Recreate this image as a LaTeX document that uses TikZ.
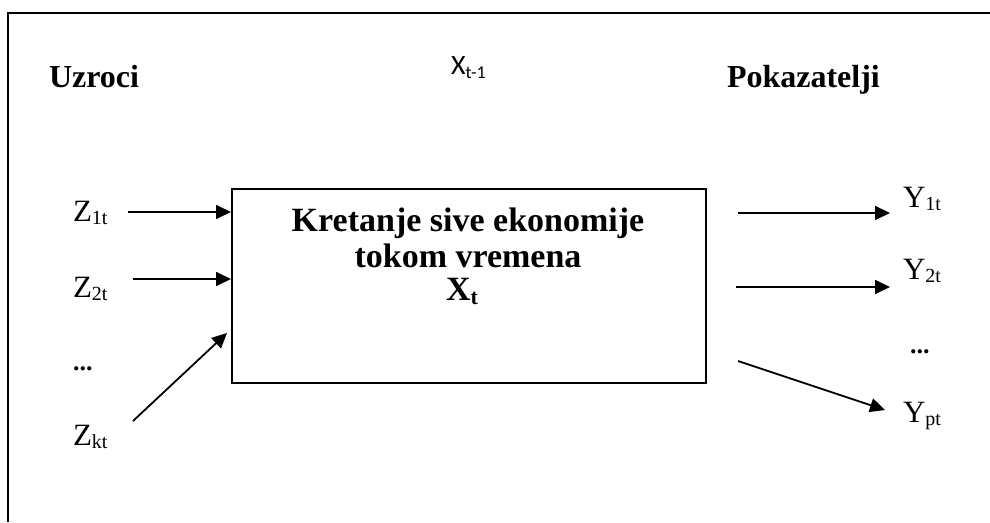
\documentclass[tikz,border=0pt]{standalone}
\usepackage{fontspec}
\setmainfont{Liberation Serif}
\newfontfamily\calibrifont{Carlito}
\usetikzlibrary{arrows.meta}
\tikzset{
  lbl/.style={anchor=base west, inner sep=0pt, outer sep=0pt},
  head/.style={font=\bfseries\fontsize{32}{36}\selectfont},
  var/.style={font=\fontsize{31}{34}\selectfont},
  dots/.style={font=\bfseries\fontsize{26}{28}\selectfont},
  conn/.style={line width=1.8pt, -{Triangle[length=15pt,width=14pt]}},
  frameline/.style={line width=2pt},
  boxtext/.style={anchor=base, inner sep=0pt, font=\bfseries\fontsize{34}{36}\selectfont},
}
\newcommand{\sbs}[1]{\raisebox{-3.5pt}{\fontsize{20}{20}\selectfont #1}}
\begin{document}
\begin{tikzpicture}[x=1pt,y=-1pt]
\useasboundingbox (0,0) rectangle (990,522);
% outer frame (open at bottom and right)
\coordinate (fl) at (8,522);
\coordinate (fc) at (8,12.5);
\coordinate (fr) at (990,12.5);
\draw[frameline] (fl) -- (fc) -- (fr);

% headings
\node[lbl, head] (uz) at (49,87) {Uzroci};
\node[lbl, head] (pok) at (727,87) {Pokazatelji};
\node[lbl, font=\calibrifont\fontsize{28}{30}\selectfont] (xt1) at (451,74)
  {X\raisebox{-4pt}{\fontsize{18}{20}\selectfont t-1}};

% central box
\node[draw, line width=1.8pt, minimum width=474pt, minimum height=194pt,
      inner sep=0pt, anchor=north west] (box) at (231,188) {};
\node[boxtext] (t1) at (468,231) {Kretanje sive ekonomije};
\node[boxtext] (t2) at (468,267) {tokom vremena};
\node[boxtext] (t3) at (462,300)
  {X\raisebox{-4pt}{\fontsize{22}{22}\selectfont t}};

% input labels
\node[lbl, var] (z1) at (73,221) {Z\sbs{1t}};
\node[lbl, var] (z2) at (73,297) {Z\sbs{2t}};
\node[lbl, dots] (zd) at (73,370) {...};
\node[lbl, var] (zk) at (73,445) {Z\sbs{kt}};

% output labels
\node[lbl, var] (y1) at (903,207) {Y\sbs{1t}};
\node[lbl, var] (y2) at (903,279) {Y\sbs{2t}};
\node[lbl, dots] (yd) at (910,353) {...};
\node[lbl, var] (yp) at (903,422) {Y\sbs{pt}};

% connector endpoints
\coordinate (a1s) at (128,212); \coordinate (a1e) at (box.west |- a1s);
\coordinate (a2s) at (133,279); \coordinate (a2e) at (box.west |- a2s);
\coordinate (a3s) at (133,421); \coordinate (a3e) at (227,333);
\coordinate (b1s) at (738,213); \coordinate (b1e) at (890,213);
\coordinate (b2s) at (736,287); \coordinate (b2e) at (890,287);
\coordinate (b3s) at (738,361); \coordinate (b3e) at (885,410);

\draw[conn] (a1s) -- (a1e);
\draw[conn] (a2s) -- (a2e);
\draw[conn] (a3s) -- (a3e);
\draw[conn] (b1s) -- (b1e);
\draw[conn] (b2s) -- (b2e);
\draw[conn] (b3s) -- (b3e);
\end{tikzpicture}
\end{document}
